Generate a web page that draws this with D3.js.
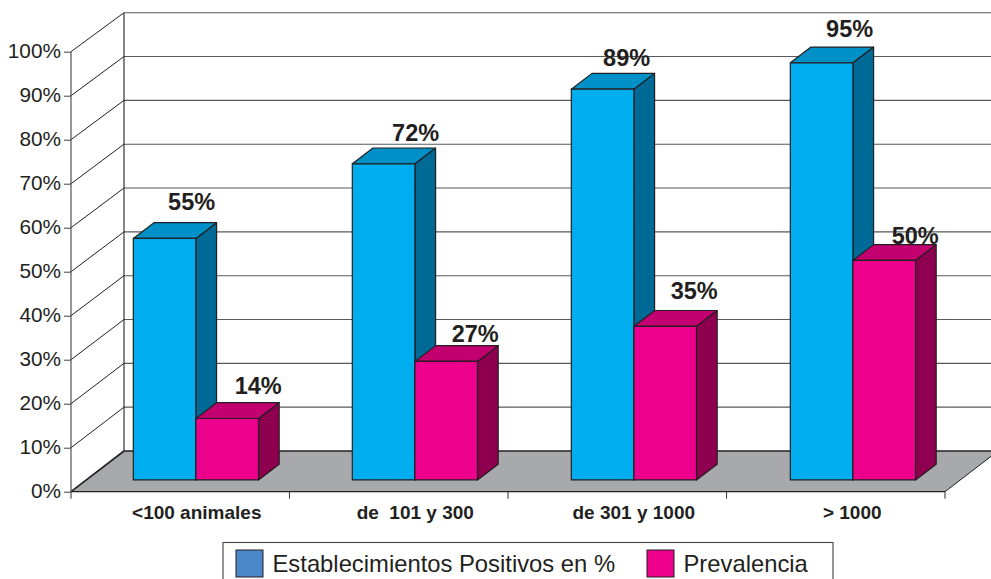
<!DOCTYPE html>
<html>
<head>
<meta charset="utf-8">
<script src="https://cdnjs.cloudflare.com/ajax/libs/d3/7.8.5/d3.min.js"></script>
<style>
  html, body { margin: 0; padding: 0; background: #fff; overflow: hidden; }
  text { font-family: "Liberation Sans", Arial, sans-serif; fill: #231f20; }
</style>
</head>
<body>
<script>
// the data
var categories = ["<100 animales", "de  101 y 300", "de 301 y 1000", "> 1000"];
var seriesNames = ["Establecimientos Positivos en %", "Prevalencia"];
var positivos = [55, 72, 89, 95];
var prevalencia = [14, 27, 35, 50];
var yTicks = [0, 10, 20, 30, 40, 50, 60, 70, 80, 90, 100];

// value labels were placed by hand in the original: [dx, lift] per bar (blue, pink)
var labelNudge = [
  [[-1, 13], [3, 9]],
  [[4, 7], [1, 4]],
  [[-4, 7], [1, 11]],
  [[0, 10], [3, 1]]
];

var width = 991, height = 579;
var depthX = 53, depthY = 40.5;   // size of the floor in the oblique view
var barNear = 0.27, barFar = 0.66; // bar front and back, as share of the depth

var colors = [
  { front: "#00aeef", top: "#0090c8", side: "#006a96", legend: "#4a86c8" },
  { front: "#ec008c", top: "#c2006f", side: "#8e004f", legend: "#ec008c" }
];

var svg = d3.select("body").append("svg")
    .attr("width", width)
    .attr("height", height);

var x = d3.scaleBand().domain(d3.range(categories.length)).range([71, 945]);
var xBars = d3.scaleBand().domain(d3.range(categories.length)).range([71, 947]);
var xSeries = d3.scaleBand().domain([0, 1]).range([48, 173.2]);
var y = d3.scaleLinear().domain([0, 100]).range([491.7, 51.7]);
var yBars = d3.scaleLinear().domain([0, 100]).range([490.9, 51.8]);
var yBack = d3.scaleLinear().domain([0, 100]).range([451, 12.7]);

// oblique projection: d = 0 is the front plane, d = 1 the back wall
function px(sx, d) { return sx + depthX * d; }
function py(sy, d) { return sy - depthY * d; }
function poly(points) { return points.map(function(p) { return p.join(","); }).join(" "); }

// floor
svg.append("polygon")
    .attr("points", poly([
      [px(x.range()[0], 0), y(0)], [px(x.range()[0], 1), yBack(0)],
      [px(x.range()[1], 1), yBack(0)], [px(x.range()[1], 0), y(0)]
    ]))
    .attr("fill", "#a7a9ac");

// grid lines on the back wall and the side wall
var grid = svg.append("g").attr("class", "grid");
grid.selectAll("line.back")
  .data(yTicks)
  .enter().append("line")
    .attr("class", "back")
    .attr("x1", px(71, 1))
    .attr("x2", width)
    .attr("y1", function(d) { return yBack(d); })
    .attr("y2", function(d) { return yBack(d); })
    .attr("stroke", function(d) { return d === 0 ? "#231f20" : "#58595b"; })
    .attr("stroke-width", function(d) { return d === 0 ? 1.6 : 1.1; });

grid.selectAll("line.side")
  .data(yTicks)
  .enter().append("line")
    .attr("class", "side")
    .attr("x1", 71)
    .attr("x2", px(71, 1))
    .attr("y1", function(d) { return y(d); })
    .attr("y2", function(d) { return yBack(d); })
    .attr("stroke", "#231f20")
    .attr("stroke-width", function(d) { return d === 0 ? 1.6 : 1; });

grid.append("line")
    .attr("x1", px(71, 1)).attr("x2", px(71, 1))
    .attr("y1", yBack(100)).attr("y2", yBack(0))
    .attr("stroke", "#231f20").attr("stroke-width", 1.1);

// right edge of the floor, runs off the picture
grid.append("line")
    .attr("x1", 945).attr("y1", y(0))
    .attr("x2", px(945, 1)).attr("y2", yBack(0))
    .attr("stroke", "#231f20").attr("stroke-width", 1);

// axes
var yAxis = svg.append("g")
    .attr("transform", "translate(71,0)")
    .call(d3.axisLeft(y).tickValues(yTicks).tickSize(7).tickPadding(3)
        .tickFormat(function(d) { return d + "%"; }));
yAxis.selectAll("path").attr("d", "M0," + y(100) + "V" + y(0)).attr("stroke", "#414042").attr("stroke-width", 1.1);
yAxis.selectAll("line").attr("stroke", "#414042");
yAxis.selectAll("text").attr("font-size", 20.8).attr("font-family", null).attr("dy", "0.28em");

var xAxis = svg.append("g")
    .attr("transform", "translate(0," + y(0) + ")")
    .call(d3.axisBottom(x).tickSize(0).tickPadding(14)
        .tickFormat(function(i) { return categories[i]; }));
xAxis.selectAll("path").attr("d", "M71,0H945").attr("stroke", "#231f20").attr("stroke-width", 1.3);
xAxis.selectAll("text")
    .attr("font-size", 19)
    .attr("font-weight", "bold")
    .attr("font-family", null)
    .attr("style", "white-space: pre")
    .attr("dx", 16.5);

xAxis.selectAll("line.boundary")
  .data(d3.range(categories.length + 1))
  .enter().append("line")
    .attr("class", "boundary")
    .attr("x1", function(i) { return 71 + i * x.step(); })
    .attr("x2", function(i) { return 71 + i * x.step(); })
    .attr("y1", 0).attr("y2", 7)
    .attr("stroke", "#414042").attr("stroke-width", 1.1);

// bars
var bars = [];
categories.forEach(function(c, i) {
  bars.push({ cat: i, s: 0, value: positivos[i], nudge: labelNudge[i][0] });
  bars.push({ cat: i, s: 1, value: prevalencia[i], nudge: labelNudge[i][1] });
});

var bar = svg.append("g").attr("class", "bars")
  .selectAll("g")
  .data(bars)
  .enter().append("g");

function corners(d) {
  var x0 = xBars(d.cat) + xSeries(d.s), x1 = x0 + xSeries.bandwidth();
  return {
    xa: px(x0, barNear), xb: px(x1, barNear), xc: px(x1, barFar), xd: px(x0, barFar),
    top: py(yBars(d.value), barNear), bot: py(yBars(0), barNear),
    topB: py(yBars(d.value), barFar), botB: py(yBars(0), barFar)
  };
}

bar.append("polygon")
    .attr("points", function(d) {
      var c = corners(d);
      return poly([[c.xb, c.bot], [c.xc, c.botB], [c.xc, c.topB], [c.xb, c.top]]);
    })
    .attr("fill", function(d) { return colors[d.s].side; });

bar.append("polygon")
    .attr("points", function(d) {
      var c = corners(d);
      return poly([[c.xa, c.top], [c.xd, c.topB], [c.xc, c.topB], [c.xb, c.top]]);
    })
    .attr("fill", function(d) { return colors[d.s].top; });

bar.append("polygon")
    .attr("points", function(d) {
      var c = corners(d);
      return poly([[c.xa, c.bot], [c.xb, c.bot], [c.xb, c.top], [c.xa, c.top]]);
    })
    .attr("fill", function(d) { return colors[d.s].front; });

bar.selectAll("polygon")
    .attr("stroke", "#231f20")
    .attr("stroke-width", 1.2)
    .attr("stroke-linejoin", "round");

// value labels
svg.append("g").attr("class", "labels")
  .selectAll("text")
  .data(bars)
  .enter().append("text")
    .attr("x", function(d) { var c = corners(d); return (c.xa + c.xb) / 2 + 28 + d.nudge[0]; })
    .attr("y", function(d) { return corners(d).topB - d.nudge[1]; })
    .attr("text-anchor", "middle")
    .attr("font-size", 23.5)
    .attr("font-weight", "bold")
    .text(function(d) { return d.value + "%"; });

// legend, cut off by the bottom of the picture
var legend = svg.append("g").attr("class", "legend");
legend.append("rect")
    .attr("x", 223).attr("y", 542.5)
    .attr("width", 610).attr("height", 60)
    .attr("fill", "#fff").attr("stroke", "#414042").attr("stroke-width", 1.1);

var legendItem = legend.selectAll("g")
  .data(seriesNames)
  .enter().append("g")
    .attr("transform", function(d, i) { return "translate(" + [236, 647][i] + ",550)"; });

legendItem.append("rect")
    .attr("width", 27).attr("height", 27)
    .attr("fill", function(d, i) { return colors[i].legend; })
    .attr("stroke", "#231f20").attr("stroke-width", 1);

legendItem.append("text")
    .attr("x", 36.5).attr("y", 22)
    .attr("font-size", 23.8)
    .text(function(d) { return d; });
</script>
</body>
</html>
